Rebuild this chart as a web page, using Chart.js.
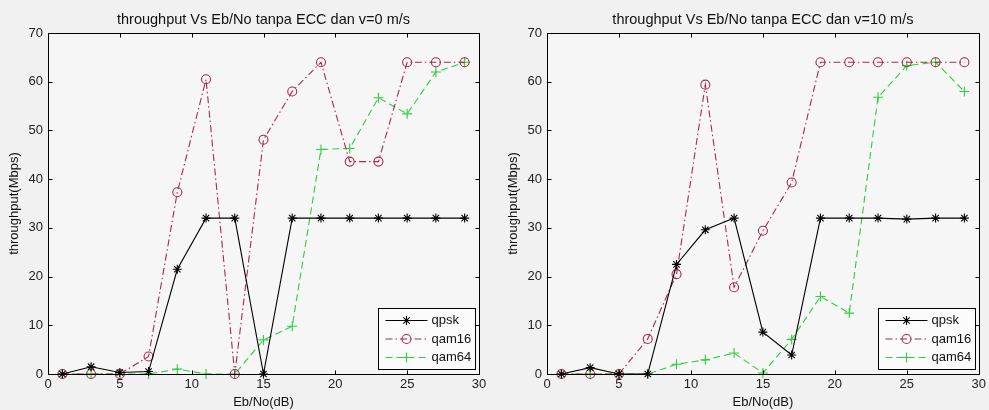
<!DOCTYPE html>
<html><head><meta charset="utf-8">
<script src="https://cdn.jsdelivr.net/npm/chart.js@4/dist/chart.umd.min.js"></script>
<style>
html,body{margin:0;padding:0;background:#f1f1f1;}
#wrap{position:relative;width:989px;height:410px;overflow:hidden;}
canvas{position:absolute;top:0;}
#ch1{left:0;}
#ch2{left:499px;}
</style></head><body>
<div id="wrap">
<canvas id="ch1" width="494" height="410"></canvas>
<canvas id="ch2" width="490" height="410"></canvas>
</div>
<script>
// ---- data ----
const ebno = [1,3,5,7,9,11,13,15,17,19,21,23,25,27,29];
const xTicks = [0,5,10,15,20,25,30];
const yTicks = [0,10,20,30,40,50,60,70];
const seriesNames = ['qpsk','qam16','qam64'];
const titles = ['throughput Vs Eb/No tanpa ECC dan v=0 m/s','throughput Vs Eb/No tanpa ECC dan v=10 m/s'];
const xLabel = 'Eb/No(dB)';
const yLabel = 'throughput(Mbps)';

const qpskV0  = [0,1.5,0.3,0.5,21.5,32,32,0,32,32,32,32,32,32,32];
const qam16V0 = [0,0,0,3.6,37.3,60.5,0,48.1,58,64,43.6,43.6,64,64,64];
const qam64V0 = [0,0,0,0,1,0,0,7,9.8,46.1,46.3,56.7,53.4,62,64];

const qpskV10  = [0,1.3,0,0,22.5,29.6,32,8.6,3.9,32,32,32,31.8,32,32];
const qam16V10 = [0,0,0,7.2,20.5,59.4,17.8,29.4,39.3,64,64,64,64,64,64];
const qam64V10 = [0,0,0,0,2,2.9,4.3,0.2,7.1,15.9,12.5,56.8,63.3,64,58];

// ---- styles ----
const FONT = "'Liberation Sans', Arial, sans-serif";
const styles = [
  {color:'#000000', dash:[], point:'star', radius:4.5},
  {color:'#a8284c', dash:[7,3,1.5,3], point:'circle', radius:4.5},
  {color:'#30cc40', dash:[7,4], point:'cross', radius:5}
];

function makeDatasets(vals){
  return vals.map((v,i)=>({
    label: seriesNames[i],
    data: ebno.map((x,k)=>({x:x,y:v[k]})),
    borderColor: styles[i].color,
    backgroundColor: 'rgba(0,0,0,0)',
    borderWidth: 1.1,
    borderDash: styles[i].dash,
    pointStyle: styles[i].point,
    pointRadius: styles[i].radius,
    pointBorderColor: styles[i].color,
    pointBackgroundColor: 'rgba(0,0,0,0)',
    pointBorderWidth: 1.1,
    tension: 0,
    clip: false
  }));
}

const framePlugin = {
  id: 'frame',
  beforeDatasetsDraw(chart){
    const {ctx, chartArea:a} = chart;
    ctx.save();
    ctx.fillStyle = '#f6f6f6';
    ctx.fillRect(a.left, a.top, a.right-a.left, a.bottom-a.top);
    ctx.restore();
  },
  afterDraw(chart){
    const {ctx, chartArea:a, scales} = chart;
    const x = scales.x, y = scales.y;
    ctx.save();
    // title centred over the axes
    ctx.fillStyle = '#111';
    ctx.font = "14.5px " + FONT;
    ctx.textAlign = 'center';
    ctx.textBaseline = 'middle';
    ctx.fillText(chart.options.plugins.frame.title, (a.left+a.right)/2, 19.5);

    ctx.setLineDash([]);
    ctx.strokeStyle = '#000';
    ctx.lineWidth = 1;
    const L = Math.round(a.left)+0.5, R = Math.round(a.right)+0.5, T = Math.round(a.top)+0.5, B = Math.round(a.bottom)+0.5;
    ctx.beginPath();
    ctx.rect(L, T, R-L, B-T);
    xTicks.forEach(v=>{
      const p = Math.round(x.getPixelForValue(v))+0.5;
      ctx.moveTo(p,B); ctx.lineTo(p,B-4);
      ctx.moveTo(p,T); ctx.lineTo(p,T+4);
    });
    yTicks.forEach(v=>{
      const p = Math.round(y.getPixelForValue(v))+0.5;
      ctx.moveTo(L,p); ctx.lineTo(L+4,p);
      ctx.moveTo(R,p); ctx.lineTo(R-4,p);
    });
    ctx.stroke();

    // legend box
    const bw = 97, bh = 61;
    const bx = Math.round(a.right) - 4 - bw + 0.5;
    const by = Math.round(a.bottom) - 5 - bh + 0.5;
    ctx.fillStyle = '#fbfbfb';
    ctx.fillRect(bx, by, bw, bh);
    ctx.strokeStyle = '#000';
    ctx.strokeRect(bx, by, bw, bh);
    chart.data.datasets.forEach((ds,i)=>{
      const cy = by + 12 + i*18.5;
      const st = styles[i];
      ctx.strokeStyle = st.color;
      ctx.lineWidth = 1.1;
      ctx.setLineDash(st.dash);
      ctx.beginPath();
      ctx.moveTo(bx+7, cy); ctx.lineTo(bx+49, cy);
      ctx.stroke();
      ctx.setLineDash([]);
      ctx.fillStyle = 'rgba(0,0,0,0)';
      ctx.strokeStyle = st.color;
      Chart.helpers.drawPoint(ctx, {pointStyle: st.point, radius: st.radius, borderWidth:1.1}, bx+28, cy);
      ctx.fillStyle = '#111';
      ctx.font = "13px " + FONT;
      ctx.textBaseline = 'middle';
      ctx.textAlign = 'left';
      ctx.fillText(ds.label, bx+53, cy);
    });
    ctx.restore();
  }
};

function makeChart(id, title, vals, rightPad){
  return new Chart(document.getElementById(id), {
    type: 'line',
    data: { datasets: makeDatasets(vals) },
    options: {
      responsive: false,
      animation: false,
      devicePixelRatio: 1,
      layout: { padding: { left: 0, right: rightPad, top: 33, bottom: 0 } },
      plugins: {
        legend: { display: false },
        tooltip: { enabled: false },
        title: { display: false },
        frame: { title: title }
      },
      scales: {
        x: {
          type: 'linear', min: 0, max: 30,
          afterBuildTicks: s => { s.ticks = xTicks.map(v=>({value:v})); },
          afterFit: s => { s.height = 36; },
          grid: { display: false, drawTicks: false },
          border: { display: false },
          ticks: { autoSkip: false, maxRotation: 0, padding: 3, color: '#222', font: { family: FONT, size: 13 } },
          title: { display: true, text: xLabel, color: '#111', font: { family: FONT, size: 13 }, padding: { top: 0, bottom: 0 } }
        },
        y: {
          type: 'linear', min: 0, max: 70,
          afterBuildTicks: s => { s.ticks = yTicks.map(v=>({value:v})); },
          afterFit: s => { s.width = 48; },
          grid: { display: false, drawTicks: false },
          border: { display: false },
          ticks: { autoSkip: false, padding: 5, color: '#222', font: { family: FONT, size: 13 } },
          title: { display: true, text: yLabel, color: '#111', font: { family: FONT, size: 13 }, padding: { top: 7, bottom: 0 } }
        }
      }
    },
    plugins: [framePlugin]
  });
}

makeChart('ch1', titles[0], [qpskV0, qam16V0, qam64V0], 15);
makeChart('ch2', titles[1], [qpskV10, qam16V10, qam64V10], 10);
</script>
</body></html>
